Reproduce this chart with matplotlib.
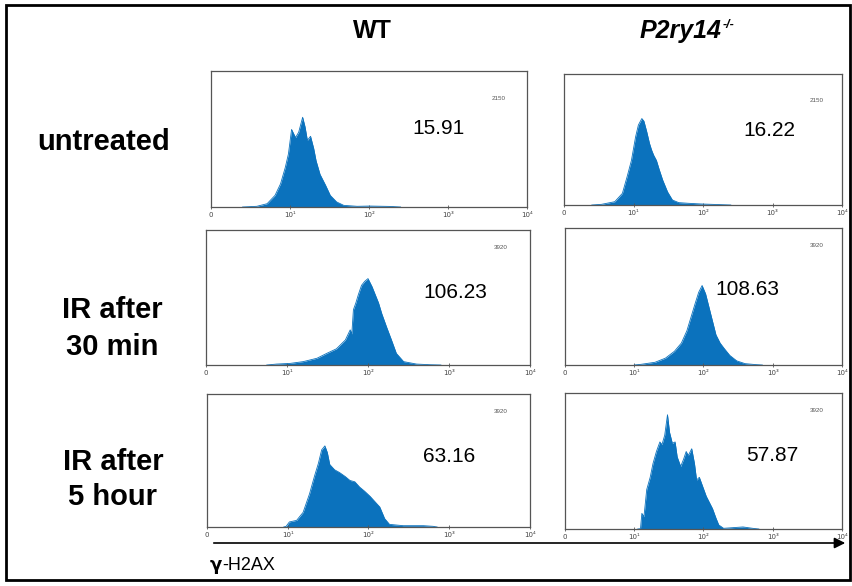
import matplotlib
matplotlib.use("Agg")
import matplotlib.pyplot as plt
from matplotlib.patches import Rectangle, FancyArrowPatch

# ---------------- data ----------------
col_titles = ["WT", "P2ry14"]
row_labels = [["untreated"], ["IR after", "30 min"], ["IR after", "5 hour"]]
mfi_values = [["15.91", "16.22"], ["106.23", "108.63"], ["63.16", "57.87"]]
y_max = [[2150, 2150], [3920, 3920], [3920, 3920]]
tick_vals = [0, 1, 2, 3, 4]
tick_labels = ["0", "10\u00b9", "10\u00b2", "10\u00b3", "10\u2074"]
x_label_greek = "\u03b3"
x_label_rest = "-H2AX"

# histograms: x = log10 fluorescence, y = event counts
wt_untr_x = [0.40, 0.58, 0.71, 0.81, 0.88, 0.94, 0.98, 1.02, 1.07, 1.11, 1.16, 1.19, 1.22, 1.26,
             1.30, 1.33, 1.38, 1.45, 1.51, 1.59, 1.68, 1.85, 2.01, 2.27, 2.40]
wt_untr_y = [0, 11, 52, 183, 366, 624, 839, 1226, 1097, 1183, 1419, 1269, 1054, 1118,
             925, 731, 516, 344, 183, 80, 26, 11, 15, 9, 0]
ko_untr_x = [0.40, 0.54, 0.73, 0.84, 0.91, 0.97, 1.03, 1.07, 1.12, 1.15, 1.19, 1.23, 1.26, 1.29,
             1.33, 1.37, 1.42, 1.49, 1.56, 1.65, 1.79, 1.97, 2.25, 2.40]
ko_untr_y = [0, 11, 54, 191, 473, 731, 1118, 1312, 1419, 1376, 1204, 1011, 903, 817,
             731, 581, 409, 215, 82, 39, 28, 17, 6, 0]
wt_30_x = [0.75, 0.87, 1.04, 1.20, 1.37, 1.49, 1.61, 1.72, 1.78, 1.80, 1.82, 1.85, 1.88, 1.92,
           1.96, 2.00, 2.05, 2.09, 2.13, 2.17, 2.23, 2.29, 2.35, 2.44, 2.60, 2.77, 2.90]
wt_30_y = [0, 27, 47, 98, 196, 337, 470, 725, 1019, 900, 1607, 1803, 2038, 2313,
           2430, 2509, 2274, 2038, 1803, 1490, 1098, 725, 337, 98, 27, 8, 0]
ko_30_x = [1.00, 1.10, 1.30, 1.45, 1.58, 1.68, 1.76, 1.82, 1.88, 1.93, 1.98, 2.03, 2.08, 2.13,
           2.18, 2.24, 2.30, 2.38, 2.48, 2.60, 2.75, 2.85]
ko_30_y = [0, 20, 78, 196, 392, 627, 980, 1372, 1764, 2078, 2274, 2038, 1646, 1254,
           862, 627, 470, 274, 118, 39, 12, 0]
wt_5h_x = [0.95, 0.98, 1.02, 1.11, 1.19, 1.27, 1.33, 1.38, 1.42, 1.46, 1.49, 1.52, 1.58, 1.64,
           1.71, 1.77, 1.83, 1.89, 1.95, 2.02, 2.08, 2.14, 2.20, 2.26, 2.43, 2.68, 2.80, 2.85]
wt_5h_y = [0, 20, 149, 196, 431, 980, 1490, 1882, 2274, 2391, 2195, 1842, 1686, 1607,
           1490, 1372, 1333, 1176, 1058, 902, 745, 588, 247, 78, 39, 39, 20, 0]
ko_5h_x = [1.05, 1.09, 1.11, 1.14, 1.18, 1.23, 1.27, 1.32, 1.37, 1.40, 1.44, 1.48, 1.51, 1.55,
           1.59, 1.62, 1.67, 1.71, 1.75, 1.78, 1.83, 1.87, 1.90, 1.94, 1.99, 2.04, 2.08, 2.13,
           2.18, 2.22, 2.29, 2.57, 2.71, 2.80]
ko_5h_y = [0, 8, 451, 353, 1137, 1490, 1882, 2234, 2509, 2430, 2705, 3293, 2783, 2470,
           2509, 2078, 1803, 1999, 2234, 2117, 2313, 1882, 1411, 1490, 1215, 941, 784, 588,
           314, 118, 20, 59, 20, 0]

hist_x = [[wt_untr_x, ko_untr_x], [wt_30_x, ko_30_x], [wt_5h_x, ko_5h_x]]
hist_y = [[wt_untr_y, ko_untr_y], [wt_30_y, ko_30_y], [wt_5h_y, ko_5h_y]]

# ---------------- layout (pixels) ----------------
W, H = 853, 586
panel_px = [[(211, 527, 71, 207), (564, 842, 74, 205)],
            [(206, 530, 230, 365), (565, 842, 228, 365)],
            [(207, 530, 394, 527), (565, 842, 393, 529)]]
mfi_pos = [[(0.72, 0.58), (0.74, 0.57)],
           [(0.77, 0.54), (0.66, 0.55)],
           [(0.75, 0.53), (0.75, 0.54)]]
scale_pos = [0.80, 0.87, 0.87]

BLUE = "#0b72bd"
FRAME = "#555555"
FONT = "Liberation Sans"

fig = plt.figure(figsize=(W / 100, H / 100), dpi=100)
fig.patch.set_facecolor("white")


def fx(px):
    return px / W


def fy(py):
    return 1 - py / H


for r in range(3):
    for c in range(2):
        L, R, T, B = panel_px[r][c]
        ax = fig.add_axes([fx(L), fy(B), (R - L) / W, (B - T) / H])
        ax.fill_between(hist_x[r][c], hist_y[r][c], 0, color=BLUE, lw=0)
        ax.plot(hist_x[r][c], hist_y[r][c], color=BLUE, lw=0.6)
        ax.set_xlim(0, 4)
        ax.set_ylim(0, y_max[r][c])
        ax.set_yticks([])
        ax.set_xticks(tick_vals)
        ax.set_xticklabels(tick_labels, fontsize=5, color="#444444", family="DejaVu Sans")
        ax.tick_params(axis="x", direction="inout", length=3, width=0.6, color=FRAME, pad=2)
        for sp in ax.spines.values():
            sp.set_color(FRAME)
            sp.set_linewidth(0.9)
        ax.text(0.91, scale_pos[r], str(y_max[r][c]), transform=ax.transAxes,
                fontsize=4.5, color="#555555", ha="center", va="center", family=FONT)
        mx, my = mfi_pos[r][c]
        ax.text(mx, my, mfi_values[r][c], transform=ax.transAxes, fontsize=15,
                ha="center", va="center", family=FONT, color="black")

# column titles
fig.text(fx(372), fy(31), col_titles[0], fontsize=18, fontweight="bold",
         ha="center", va="center", family=FONT)
t2 = fig.text(fx(640), fy(31), col_titles[1], fontsize=18, fontweight="bold",
              style="italic", ha="left", va="center", family=FONT)
fig.canvas.draw()
renderer = fig.canvas.get_renderer()
bb = t2.get_window_extent(renderer=renderer)
fig.text(bb.x1 / W + 0.001, fy(25), "-/-", fontsize=9, fontweight="bold",
         style="italic", ha="left", va="center", family=FONT)

# row labels
row_centers = [(104, [142]), (112, [310, 347]), (113, [462, 497])]
for (cx, ys), lines in zip(row_centers, row_labels):
    for yy, txt in zip(ys, lines):
        fig.text(fx(cx), fy(yy), txt, fontsize=21, fontweight="bold",
                 ha="center", va="center", family=FONT)

# x label & arrow
tg = fig.text(fx(210), fy(565), x_label_greek, fontsize=13, ha="left", va="center",
              family="DejaVu Sans", fontweight="bold")
fig.canvas.draw()
bg = tg.get_window_extent(renderer=renderer)
fig.text(bg.x1 / W, fy(565), x_label_rest, fontsize=13, ha="left", va="center",
         family=FONT)
arrow = FancyArrowPatch((fx(211), fy(543)), (fx(848), fy(543)),
                        transform=fig.transFigure, arrowstyle="-|>",
                        mutation_scale=16, lw=1.2, color="black")
fig.patches.append(arrow)

# outer frame
fig.patches.append(Rectangle((fx(6), fy(580)), (850 - 6) / W, (580 - 5) / H,
                             transform=fig.transFigure, fill=False, lw=2,
                             edgecolor="black"))

fig.savefig("out.png", dpi=100, facecolor="white")
